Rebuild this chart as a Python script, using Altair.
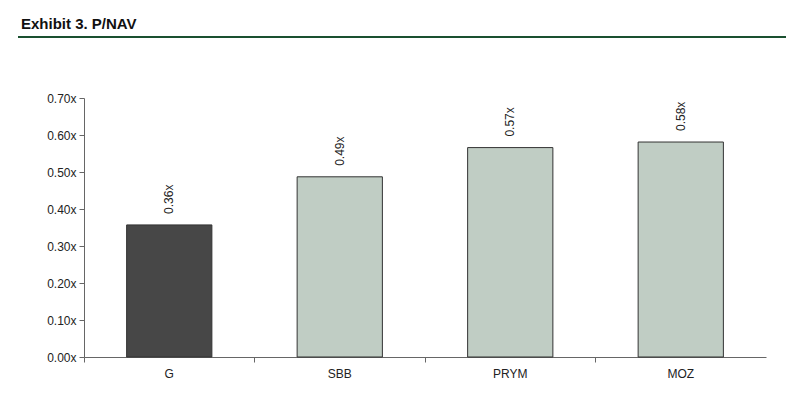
import altair as alt
import pandas as pd

categories = ["G", "SBB", "PRYM", "MOZ"]
values = [0.357, 0.487, 0.566, 0.581]
highlight = ["yes", "no", "no", "no"]
y_ticks = [0, 0.1, 0.2, 0.3, 0.4, 0.5, 0.6, 0.7]
title_text = "Exhibit 3. P/NAV"

df = pd.DataFrame({"cat": categories, "val": values, "hl": highlight})

FONT = "Liberation Sans"

x_enc = alt.X("cat:N", sort=categories, title=None,
              scale=alt.Scale(paddingInner=0, paddingOuter=0),
              axis=alt.Axis(labelAngle=0, bandPosition=0, tickSize=5, labelPadding=6,
                            labelFont=FONT, labelFontSize=12, labelColor="#222",
                            domainColor="#666", tickColor="#666"))
y_enc = alt.Y("val:Q", title=None,
              scale=alt.Scale(domain=[0, 0.7]),
              axis=alt.Axis(values=y_ticks, grid=False,
                            labelExpr="format(datum.value, '.2f') + 'x'",
                            labelOverlap=False,
                            tickSize=5, labelPadding=3,
                            labelFont=FONT, labelFontSize=12, labelColor="#222",
                            domainColor="#666", tickColor="#666"))

bars = alt.Chart(df).mark_bar(width={"band": 0.5}, stroke="#333", strokeWidth=1).encode(
    x=x_enc, y=y_enc,
    color=alt.Color("hl:N", scale=alt.Scale(domain=["yes", "no"], range=["#474747", "#c0cdc4"]), legend=None),
)

labels = alt.Chart(df).transform_calculate(
    lab="format(datum.val, '.2f') + 'x'"
).mark_text(angle=270, align="left", baseline="middle", dx=11,
            font=FONT, fontSize=12, color="#222").encode(
    x=x_enc, y=y_enc, text="lab:N")

title_df = pd.DataFrame({"t": [title_text]})
title = alt.Chart(title_df).mark_text(align="left", baseline="alphabetic", font=FONT,
                                      fontSize=15, fontWeight="bold", color="#111").encode(
    text="t:N", x=alt.value(-63), y=alt.value(-69))

rule = alt.Chart(title_df).mark_rule(color="#1a5030", strokeWidth=2).encode(
    x=alt.value(-66), x2=alt.value(703), y=alt.value(-61))

chart = alt.layer(bars, labels, title, rule).properties(
    width=682, height=259,
    autosize=alt.AutoSizeParams(type="none"),
    padding={"left": 76, "top": 90, "right": 20, "bottom": 30},
    background="white",
).configure_view(stroke=None)

chart.save("out.html", embed_options={"renderer": "svg", "actions": False})
